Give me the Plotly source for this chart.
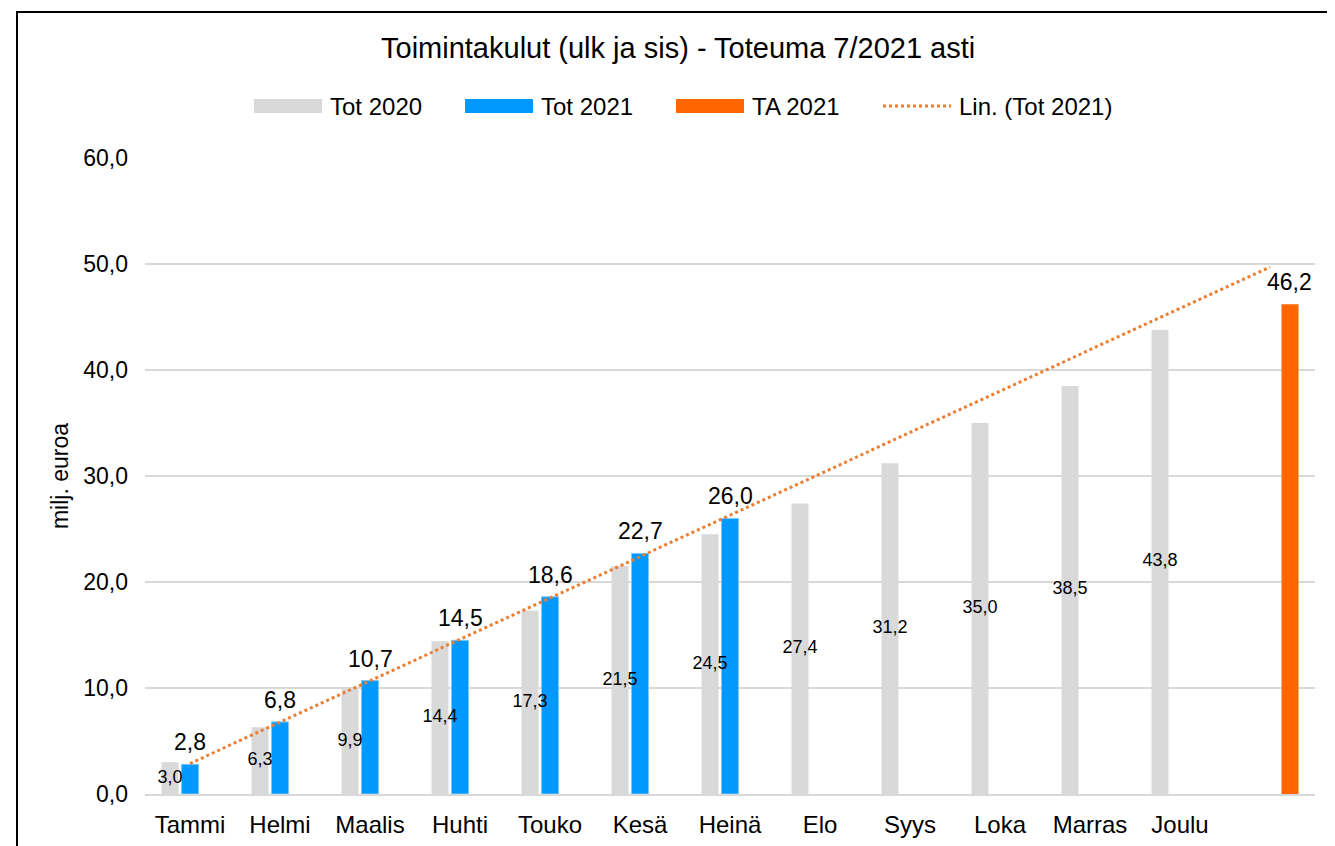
import numpy as np
import plotly.graph_objects as go

months = ["Tammi", "Helmi", "Maalis", "Huhti", "Touko", "Kesä", "Heinä",
          "Elo", "Syys", "Loka", "Marras", "Joulu", ""]
tot_2020 = [3.0, 6.3, 9.9, 14.4, 17.3, 21.5, 24.5, 27.4, 31.2, 35.0, 38.5, 43.8, None]
tot_2021 = [2.8, 6.8, 10.7, 14.5, 18.6, 22.7, 26.0, None, None, None, None, None, None]
ta_2021 = [None] * 12 + [46.2]
legend_names = ["Tot 2020", "Tot 2021", "TA 2021", "Lin. (Tot 2021)"]

GRAY = "#d9d9d9"
BLUE = "#0099ff"
ORANGE = "#ff6600"
TREND = "#ed7d31"
FONT = "Liberation Sans, Arial, sans-serif"
SLOT = 0.222  # offset of a bar from its category centre

# plot area in page pixels, used to place the hand-made legend
PLOT_LEFT, PLOT_WIDTH, PLOT_BOTTOM, PLOT_HEIGHT = 145, 1170, 794, 636
LEGEND_X = [254, 465, 676, 883]  # left edge of each swatch
LEGEND_Y = 106
SWATCH_W = 68

xs = list(range(len(months)))


def fmt(v):
    return f"{v:.1f}".replace(".", ",")


def px(x):
    return (x - PLOT_LEFT) / PLOT_WIDTH


def py(y):
    return (PLOT_BOTTOM - y) / PLOT_HEIGHT


fig = go.Figure()

fig.add_trace(go.Bar(x=xs, y=tot_2020, marker_color=GRAY, name=legend_names[0],
                     marker_line_width=0))
fig.add_trace(go.Bar(x=xs, y=tot_2021, marker_color=BLUE, name=legend_names[1],
                     marker_line={"color": "#7cc8ff", "width": 1}))
fig.add_trace(go.Bar(x=xs, y=ta_2021, marker_color=ORANGE, name=legend_names[2],
                     marker_line_width=0))

# labels of the 2020 bars sit at half height
lab_x = [i - SLOT for i, v in enumerate(tot_2020) if v is not None]
lab_y = [v / 2 for v in tot_2020 if v is not None]
lab_t = [fmt(v) for v in tot_2020 if v is not None]
fig.add_trace(go.Scatter(x=lab_x, y=lab_y, text=lab_t, mode="text",
                         textfont={"size": 18, "color": "#000000"}, cliponaxis=False))

# labels above the 2021 bars and the budget bar
annotations = []
for offset, series in [(0.0, tot_2021), (SLOT, ta_2021)]:
    for i, v in enumerate(series):
        if v is None:
            continue
        annotations.append({"x": i + offset, "y": v, "xref": "x", "yref": "y",
                            "text": fmt(v), "showarrow": False, "yanchor": "bottom",
                            "yshift": 7, "font": {"size": 23, "color": "#000000"}})

# linear trend of Tot 2021, extended over all categories
known = [(i + 1, v) for i, v in enumerate(tot_2021) if v is not None]
slope, icpt = np.polyfit([k[0] for k in known], [k[1] for k in known], 1)
trend_y = [slope * (i + 1) + icpt for i in xs]
fig.add_trace(go.Scatter(x=xs, y=trend_y, mode="lines", name=legend_names[3],
                         line={"color": TREND, "width": 3, "dash": "dot"}))

# legend drawn by hand: Excel uses wide swatches
shapes = []
for name, color, x0 in zip(legend_names, [GRAY, BLUE, ORANGE, TREND], LEGEND_X):
    if name.startswith("Lin."):
        shapes.append({"type": "line", "xref": "paper", "yref": "paper",
                       "x0": px(x0), "x1": px(x0 + SWATCH_W),
                       "y0": py(LEGEND_Y), "y1": py(LEGEND_Y),
                       "line": {"color": color, "width": 3, "dash": "dot"}})
    else:
        shapes.append({"type": "rect", "xref": "paper", "yref": "paper",
                       "x0": px(x0), "x1": px(x0 + SWATCH_W),
                       "y0": py(LEGEND_Y + 7), "y1": py(LEGEND_Y - 7),
                       "fillcolor": color, "line": {"width": 0}})
    annotations.append({"x": px(x0 + SWATCH_W + 6), "y": py(LEGEND_Y),
                        "xref": "paper", "yref": "paper", "text": name,
                        "showarrow": False, "xanchor": "left", "yanchor": "middle",
                        "font": {"size": 24, "color": "#000000"}})

# outer chart frame
shapes.append({"type": "rect", "xref": "paper", "yref": "paper",
               "x0": px(17), "x1": 1.03, "y0": -0.1, "y1": py(12),
               "line": {"color": "#000000", "width": 2}})

# page body has an 8px margin, so the figure is shrunk by that amount
fig.update_layout(
    width=1327,
    height=838,
    margin={"l": 137, "r": 20, "t": 150, "b": 52, "autoexpand": False},
    paper_bgcolor="white",
    plot_bgcolor="white",
    font={"family": FONT, "size": 23, "color": "#000000"},
    separators=", ",
    showlegend=False,
    barmode="group",
    bargap=0.333,
    bargroupgap=0.15,
    title={"text": "Toimintakulut (ulk ja sis) - Toteuma 7/2021 asti",
           "x": 0.505, "xanchor": "center", "y": 0.953, "yanchor": "middle",
           "font": {"size": 29}},
    xaxis={"range": [-0.5, 12.5], "tickmode": "array", "tickvals": xs,
           "ticktext": months, "showgrid": False, "zeroline": False,
           "showline": True, "linecolor": GRAY, "linewidth": 2, "ticks": "",
           "ticklabelstandoff": 8, "tickfont": {"size": 24}},
    yaxis={"range": [0, 60], "dtick": 10, "tickformat": ".1f",
           "showgrid": True, "gridcolor": GRAY, "gridwidth": 1.5,
           "zeroline": False, "ticks": "", "ticklabelstandoff": 16,
           "title": {"text": "milj. euroa", "font": {"size": 23}, "standoff": 8},
           "tickfont": {"size": 23}},
    annotations=annotations,
    shapes=shapes,
)

fig.write_html("out.html")
